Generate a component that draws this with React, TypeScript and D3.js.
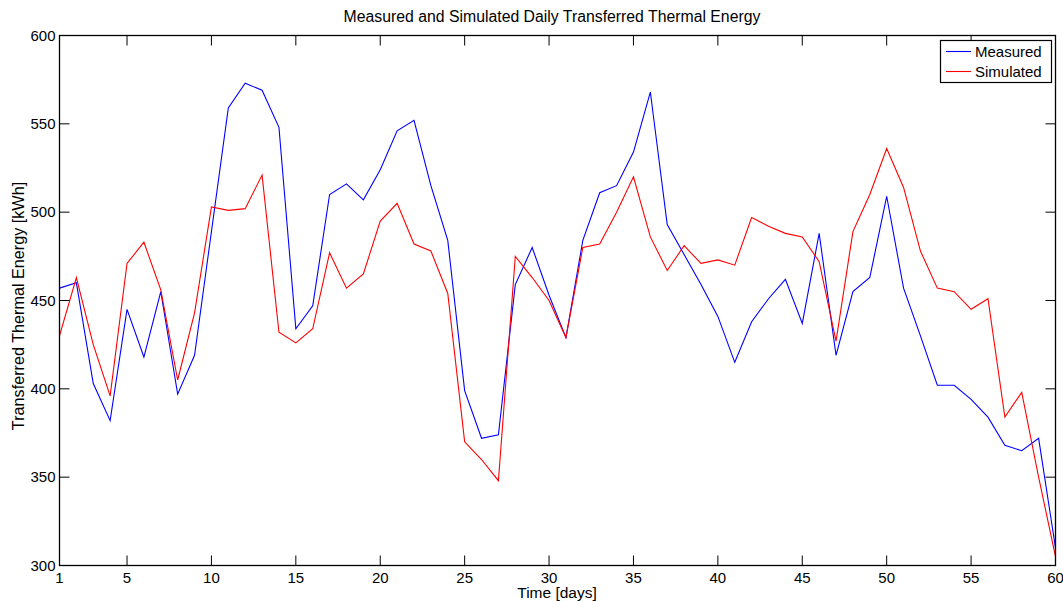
import React from "react";
import * as d3 from "d3";

// Daily transferred thermal energy, days 1..60 (kWh)
const days: number[] = Array.from({ length: 60 }, (_, i) => i + 1);

const measured: number[] = [
  457, 460, 403, 382, 445, 418, 455, 397, 419, 489,
  559, 573, 569, 548, 434, 447, 510, 516, 507, 524,
  546, 552, 515, 484, 399, 372, 374, 459, 480, 453,
  429, 484, 511, 515, 534, 568, 493, 476, 459, 441,
  415, 438, 451, 462, 437, 488, 419, 455, 463, 509,
  457, 430, 402, 402, 394, 384, 368, 365, 372, 310,
];

const simulated: number[] = [
  430, 463, 425, 396, 471, 483, 456, 405, 443, 503,
  501, 502, 521, 432, 426, 434, 477, 457, 465, 495,
  505, 482, 478, 454, 370, 360, 348, 475, 463, 450,
  429, 480, 482, 500, 520, 486, 467, 481, 471, 473,
  470, 497, 492, 488, 486, 472, 427, 489, 510, 536,
  514, 478, 457, 455, 445, 451, 384, 398, 350, 305,
];

const xTicks: number[] = [1, 5, 10, 15, 20, 25, 30, 35, 40, 45, 50, 55, 60];
const yTicks: number[] = [300, 350, 400, 450, 500, 550, 600];

const seriesNames: string[] = ["Measured", "Simulated"];
const seriesColors: string[] = ["#0000ff", "#ff0000"];

const W = 1063;
const H = 601;
const left = 59.5;
const right = 1055.5;
const top = 35.5;
const bottom = 565.5;
const tickLen = 10;
const font = "'Liberation Sans', Arial, Helvetica, sans-serif";

export default function App() {
  const x = d3.scaleLinear().domain([1, 60]).range([left, right]);
  const y = d3.scaleLinear().domain([300, 600]).range([bottom, top]);

  const line = d3
    .line<number>()
    .x((_, i) => x(days[i]))
    .y((v) => y(v));

  const series = [measured, simulated];

  return (
    <svg
      width={W}
      height={H}
      style={{ position: "absolute", left: 0, top: 0, background: "#fff" }}
      fontFamily={font}
    >
      <rect x={0} y={0} width={W} height={H} fill="#fff" />
      <text x={552} y={22} fontSize={15.8} textAnchor="middle" fill="#000">
        Measured and Simulated Daily Transferred Thermal Energy
      </text>

      <defs>
        <clipPath id="plotClip">
          <rect x={left} y={top} width={right - left} height={bottom - top} />
        </clipPath>
      </defs>
      <g clipPath="url(#plotClip)">
        {series.map((s, k) => (
          <path
            key={k}
            d={line(s) || ""}
            fill="none"
            stroke={seriesColors[k]}
            strokeWidth={1.1}
          />
        ))}
      </g>

      {/* axes box */}
      <rect
        x={left}
        y={top}
        width={right - left}
        height={bottom - top}
        fill="none"
        stroke="#000"
        strokeWidth={1.3}
      />

      {/* x ticks, bottom and top, pointing inward */}
      {xTicks.map((t) => (
        <g key={"xt" + t}>
          <line x1={x(t)} x2={x(t)} y1={bottom} y2={bottom - tickLen} stroke="#000" />
          <line x1={x(t)} x2={x(t)} y1={top} y2={top + tickLen} stroke="#000" />
          <text x={x(t)} y={583} fontSize={15} textAnchor="middle" fill="#000">
            {t}
          </text>
        </g>
      ))}

      {/* y ticks, left and right */}
      {yTicks.map((t) => (
        <g key={"yt" + t}>
          <line x1={left} x2={left + tickLen} y1={y(t)} y2={y(t)} stroke="#000" />
          <line x1={right} x2={right - tickLen} y1={y(t)} y2={y(t)} stroke="#000" />
          <text
            x={left - 4}
            y={y(t) + 5}
            fontSize={15}
            textAnchor="end"
            fill="#000"
          >
            {t}
          </text>
        </g>
      ))}

      <text x={557} y={598} fontSize={15.5} textAnchor="middle" fill="#000">
        Time [days]
      </text>
      <text
        transform={`translate(24, 306) rotate(-90)`}
        fontSize={16.2}
        textAnchor="middle"
        fill="#000"
      >
        Transferred Thermal Energy [kWh]
      </text>

      {/* legend */}
      <g>
        <rect x={940.5} y={40.5} width={111} height={42} fill="#fff" stroke="#000" strokeWidth={1.2} />
        {seriesNames.map((n, k) => (
          <g key={n}>
            <line
              x1={946}
              x2={971}
              y1={51.5 + k * 20}
              y2={51.5 + k * 20}
              stroke={seriesColors[k]}
              strokeWidth={1.1}
            />
            <text x={975} y={57 + k * 20} fontSize={15} fill="#000">
              {n}
            </text>
          </g>
        ))}
      </g>
    </svg>
  );
}
